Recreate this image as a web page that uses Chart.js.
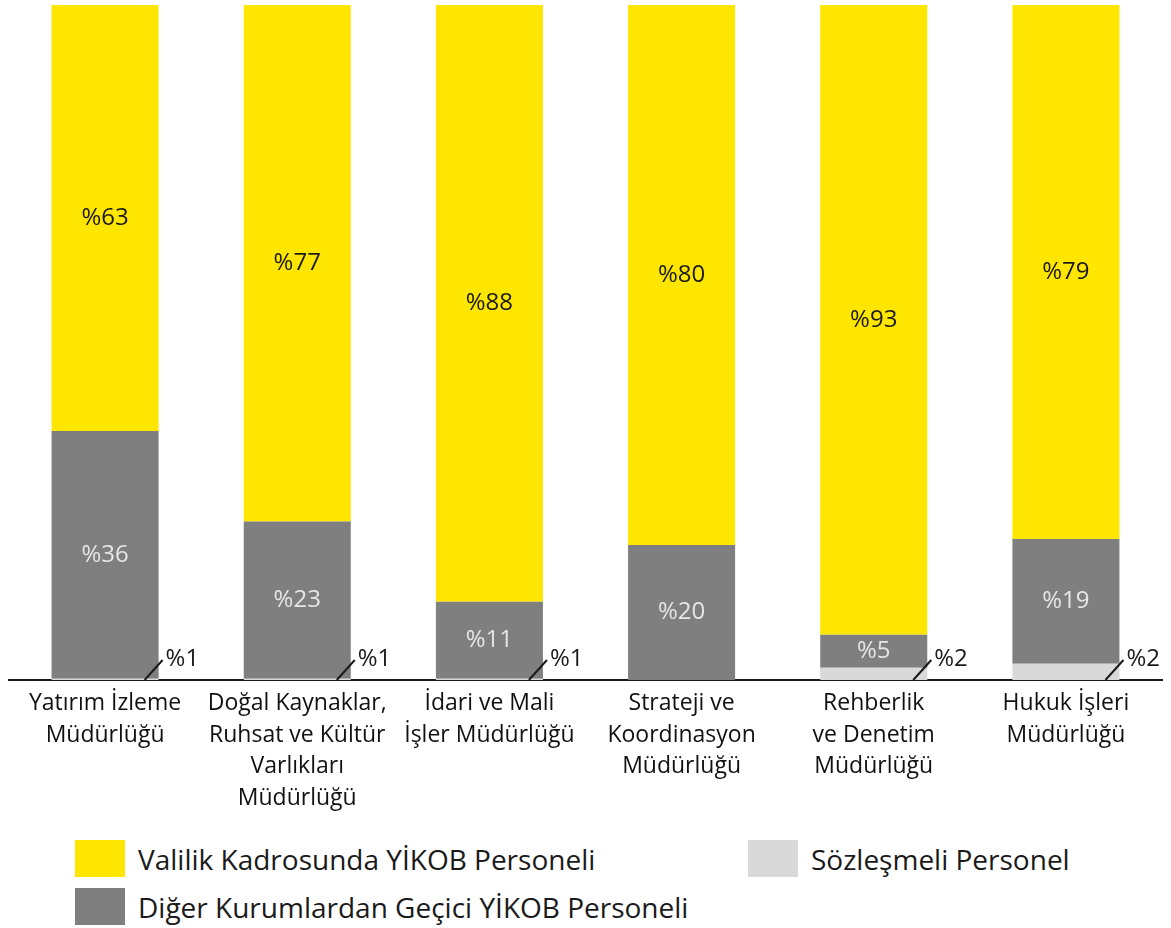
<!DOCTYPE html>
<html lang="tr">
<head>
<meta charset="utf-8">
<script src="https://cdn.jsdelivr.net/npm/chart.js@4/dist/chart.umd.min.js"></script>
<style>
  html, body { margin: 0; padding: 0; background: #fff; }
  body { width: 1171px; height: 928px; position: relative; overflow: hidden; font-family: 'Open Sans', sans-serif; }
  #wrap { position: absolute; left: 0; top: 0; width: 1171px; height: 830px; }
  .legend-item { position: absolute; display: flex; align-items: center; font-size: 28px; color: #1a1a1a; white-space: nowrap; }
  .legend-item span.box { display: inline-block; width: 50px; height: 37px; margin-right: 13px; }
</style>
</head>
<body>
<div id="wrap"><canvas id="chart"></canvas></div>
<div id="legend"></div>
<script>
(function () {
  // categories, one entry per line of the tick label
  const categories = [
    ['Yatırım İzleme', 'Müdürlüğü'],
    ['Doğal Kaynaklar,', 'Ruhsat ve Kültür', 'Varlıkları', 'Müdürlüğü'],
    ['İdari ve Mali', 'İşler Müdürlüğü'],
    ['Strateji ve', 'Koordinasyon', 'Müdürlüğü'],
    ['Rehberlik', 've Denetim', 'Müdürlüğü'],
    ['Hukuk İşleri', 'Müdürlüğü'],
  ];

  // bar heights (% of the column)
  const sozlesmeli = [0.2, 0.2, 0.2, 0, 1.8, 2.4];
  const gecici = [36.7, 23.3, 11.4, 20, 4.9, 18.5];
  const valilik = [63.1, 76.5, 88.4, 80, 93.3, 79.1];

  // printed labels
  const sozlesmeliLabels = ['%1', '%1', '%1', '', '%2', '%2'];
  const geciciLabels = ['%36', '%23', '%11', '%20', '%5', '%19'];
  const valilikLabels = ['%63', '%77', '%88', '%80', '%93', '%79'];

  const FONT = "'Open Sans', sans-serif";

  const datasets = [
    { label: 'Sözleşmeli Personel', data: sozlesmeli, backgroundColor: '#d9d9d9', texts: sozlesmeliLabels, outside: true },
    { label: 'Diğer Kurumlardan Geçici YİKOB Personeli', data: gecici, backgroundColor: '#7f7f7f', texts: geciciLabels, textColor: '#e6e6e6' },
    { label: 'Valilik Kadrosunda YİKOB Personeli', data: valilik, backgroundColor: '#ffe600', texts: valilikLabels, textColor: '#1a1a1a' },
  ];

  const barLabels = {
    id: 'barLabels',
    afterDatasetsDraw(chart) {
      const ctx = chart.ctx;
      ctx.save();
      ctx.font = '24px ' + FONT;
      ctx.textBaseline = 'middle';
      chart.data.datasets.forEach((ds, di) => {
        const meta = chart.getDatasetMeta(di);
        meta.data.forEach((bar, i) => {
          const text = ds.texts[i];
          if (!text) return;
          if (ds.outside) {
            const right = bar.x + bar.width / 2;
            const base = bar.base;
            ctx.strokeStyle = '#1a1a1a';
            ctx.lineWidth = 2;
            ctx.beginPath();
            ctx.moveTo(right - 14, base);
            ctx.lineTo(right + 4, base - 20);
            ctx.stroke();
            ctx.fillStyle = '#1a1a1a';
            ctx.textAlign = 'left';
            ctx.fillText(text, right + 7, base - 21);
          } else {
            ctx.fillStyle = ds.textColor;
            ctx.textAlign = 'center';
            ctx.fillText(text, bar.x, (bar.y + bar.base) / 2);
          }
        });
      });
      ctx.restore();
    },
  };

  new Chart(document.getElementById('chart'), {
    type: 'bar',
    data: {
      labels: categories,
      datasets: datasets.map((d) => ({
        label: d.label,
        data: d.data,
        backgroundColor: d.backgroundColor,
        texts: d.texts,
        textColor: d.textColor,
        outside: d.outside,
        barPercentage: 0.557,
        categoryPercentage: 1,
      })),
    },
    options: {
      responsive: true,
      maintainAspectRatio: false,
      animation: false,
      layout: { padding: { top: 5, left: 9, right: 9, bottom: 0 } },
      plugins: { legend: { display: false }, tooltip: { enabled: false } },
      scales: {
        x: {
          stacked: true,
          grid: { display: false },
          border: { display: true, color: '#1a1a1a', width: 2 },
          ticks: {
            color: '#111',
            font: { family: FONT, size: 23, lineHeight: 1.37 },
            padding: 0,
            maxRotation: 0,
            autoSkip: false,
          },
          afterFit(scale) { scale.height = 150; },
        },
        y: { stacked: true, display: false, min: 0, max: 100 },
      },
    },
    plugins: [barLabels],
  });

  // legend: two rows, Sözleşmeli on the right of the first row
  const legendSpots = [
    { ds: 2, left: 75, top: 840 },
    { ds: 0, left: 748, top: 840 },
    { ds: 1, left: 75, top: 888 },
  ];
  const legend = document.getElementById('legend');
  legendSpots.forEach((spot) => {
    const d = datasets[spot.ds];
    const item = document.createElement('div');
    item.className = 'legend-item';
    item.style.left = spot.left + 'px';
    item.style.top = spot.top + 'px';
    item.style.height = '37px';
    item.innerHTML = '<span class="box" style="background:' + d.backgroundColor + '"></span>' + d.label;
    legend.appendChild(item);
  });
})();
</script>
</body>
</html>
